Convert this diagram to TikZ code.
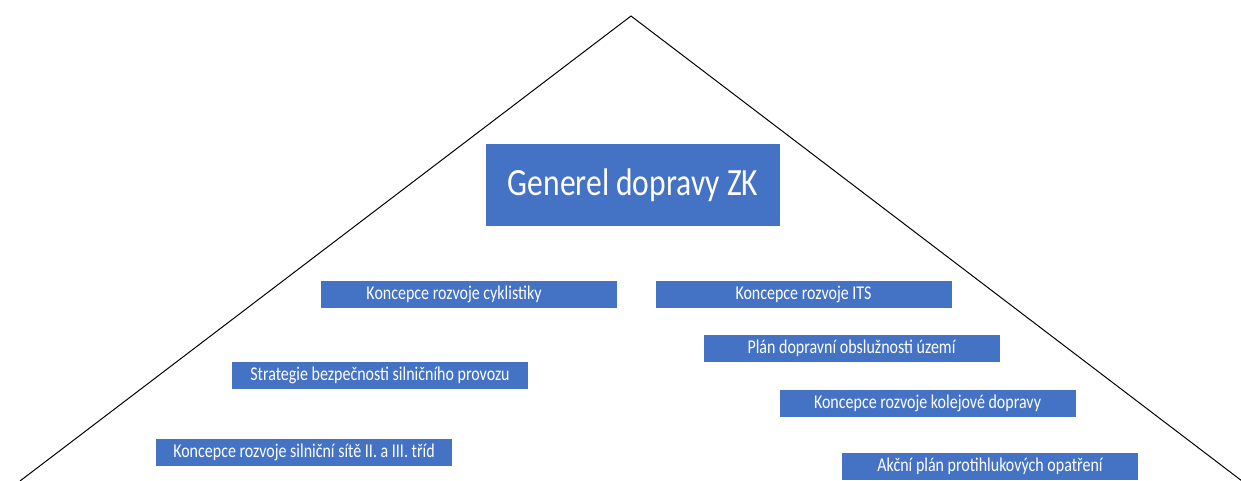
\documentclass[tikz,border=0pt]{standalone}
\usepackage{fontspec}
\newfontfamily\boxfont[FakeStretch=0.82]{Carlito}

\begin{document}
\begin{tikzpicture}[x=1pt, y=-1pt,
    plan/.style={fill=planblue, text=white, inner sep=0pt,
      minimum width=296pt, minimum height=27pt,
      font=\boxfont\fontsize{19.5}{20}\selectfont},
    top/.style={plan, minimum width=294pt, minimum height=82pt,
      font=\boxfont\fontsize{38.5}{40}\selectfont}]
  \definecolor{planblue}{HTML}{4472C4}
  \useasboundingbox (0,0) rectangle (1241,481);

  % Pyramid
  \coordinate (apex) at (631,16);
  \coordinate (baseL) at (20,481);
  \coordinate (baseR) at (1242,481);
  \draw[line width=1pt] (baseL) -- (apex) -- (baseR);

  % Top document
  \node[top] (generel) at (633,185) {Generel dopravy ZK};

  % Left side
  \node[plan] (cyklo) at (469,294.5) {Koncepce rozvoje cyklistiky\hspace*{30pt}};
  \node[plan] (bezp) at (380,375) {Strategie bezpečnosti silničního provozu};
  \node[plan] (silnice) at (304,452.5) {Koncepce rozvoje silniční sítě II. a III. tříd};

  % Right side
  \node[plan] (its) at (803.5,294) {Koncepce rozvoje ITS};
  \node[plan] (odu) at (851.5,348.5) {Plán dopravní obslužnosti území};
  \node[plan] (kolej) at (927.5,403.5) {Koncepce rozvoje kolejové dopravy};
  \node[plan] (hluk) at (990,466) {Akční plán protihlukových opatření};
\end{tikzpicture}
\end{document}
